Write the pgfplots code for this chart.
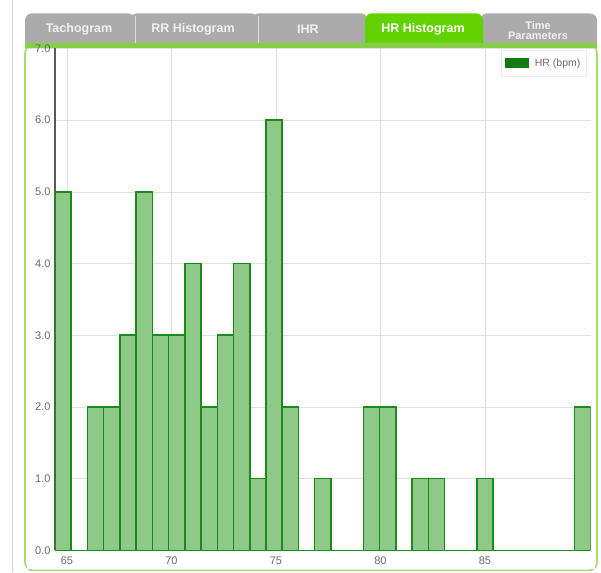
\documentclass[border=0pt]{standalone}
\usepackage{fontspec}
\setmainfont{Liberation Sans}
\usepackage{pgfplots}
\pgfplotsset{compat=1.18}
\definecolor{tabgray}{HTML}{ABABAB}
\definecolor{tabgreen}{HTML}{62D200}
\definecolor{framegreen}{HTML}{A3DA72}
\definecolor{topgreen}{HTML}{86CF45}
\definecolor{barfill}{HTML}{8FC988}
\definecolor{barline}{HTML}{1B8A1B}
\definecolor{legsq}{HTML}{127A12}
\definecolor{ticktext}{HTML}{6A6A6A}
\pgfplotstableread{
x y
64.426 5
65.203 0
65.979 2
66.756 2
67.532 3
68.309 5
69.086 3
69.862 3
70.639 4
71.415 2
72.192 3
72.969 4
73.745 1
74.522 6
75.298 2
76.075 0
76.852 1
77.628 0
78.405 0
79.181 2
79.958 2
80.735 0
81.511 1
82.288 1
83.064 0
83.841 0
84.618 1
85.394 0
86.171 0
86.947 0
87.724 0
88.501 0
89.277 2
90.054 0
}\hrdata
\begin{document}
\begin{tikzpicture}[x=1pt,y=1pt]
\fill[white] (0,0) rectangle (601,572);
\draw[gray!35, line width=0.8pt] (12,0) -- (12,572);
% tabs
\fill[tabgray] (480,524) [rounded corners=7pt] -- (480,559) -- (597,559) [sharp corners] -- (597,524) -- cycle;
\fill[tabgray] (252,524) [rounded corners=7pt] -- (252,559) -- (368,559) [sharp corners] -- (368,524) -- cycle;
\fill[tabgray] (130,524) [rounded corners=7pt] -- (130,559) -- (258,559) [sharp corners] -- (258,524) -- cycle;
\fill[tabgray] (25,524) [rounded corners=7pt] -- (25,559) -- (135,559) [sharp corners] -- (135,524) -- cycle;
\fill[tabgreen] (365,524) [rounded corners=7pt] -- (365,559) -- (483,559) [sharp corners] -- (483,524) -- cycle;
\draw[white!60!tabgray, line width=0.8pt] (135,528) -- (135,556);
\draw[white!60!tabgray, line width=0.8pt] (258,528) -- (258,556);
\node[text=white!88!gray, font=\fontsize{12.5}{13}\selectfont\bfseries] at (79,543) {Tachogram};
\node[text=white!88!gray, font=\fontsize{12.5}{13}\selectfont\bfseries] at (193,543) {RR Histogram};
\node[text=white!88!gray, font=\fontsize{12.5}{13}\selectfont\bfseries] at (308,543) {IHR};
\node[text=white, font=\fontsize{12.5}{13}\selectfont\bfseries] at (423,543) {HR Histogram};
\node[text=white!88!gray, font=\fontsize{11}{11.5}\selectfont\bfseries, align=center] at (538,542) {Time\\[-1pt]Parameters};
% frame
\draw[framegreen, line width=1.6pt, rounded corners=8pt] (25,527) rectangle (597,2);
\fill[topgreen] (25,524) rectangle (597,529);
\fill[white] (27,3) rectangle (595,523);
\begin{axis}[
  at={(55pt,22pt)}, anchor=south west,
  width=535.6pt, height=502pt, scale only axis,
  xmin=64.426, xmax=90.054, ymin=0, ymax=7,
  xtick={65,70,75,80,85}, ytick={0,1,...,7},
  grid=major, major grid style={gray!25, line width=0.5pt},
  major tick length=0pt,
  axis lines*=left,
  x axis line style={draw=none},
  y axis line style={draw=black!65, line width=1.2pt},
  /pgf/number format/assume math mode=true,
  yticklabel={\pgfmathprintnumber[fixed, fixed zerofill, precision=1]{\tick}},
  xticklabel style={font=\fontsize{11}{12}\selectfont, text=ticktext, yshift=-3pt},
  yticklabel style={font=\fontsize{11}{12}\selectfont, text=ticktext, xshift=-1pt},
  legend style={at={(1,1)}, anchor=north east, xshift=-4pt, yshift=-2pt, draw=gray!15, fill=white,
    font=\fontsize{10.5}{11}\selectfont, text=ticktext, inner xsep=4pt, inner ysep=6pt},
  legend cell align=left,
]
\addplot[ybar interval, fill=barfill, draw=barline, line width=1.6pt,
  legend image code/.code={\fill[legsq] (0pt,-4pt) rectangle (22pt,4pt); \path (26pt,0pt);}]
  table[x=x, y=y] {\hrdata};
\addlegendentry{HR (bpm)}
\end{axis}
\end{tikzpicture}
\end{document}
